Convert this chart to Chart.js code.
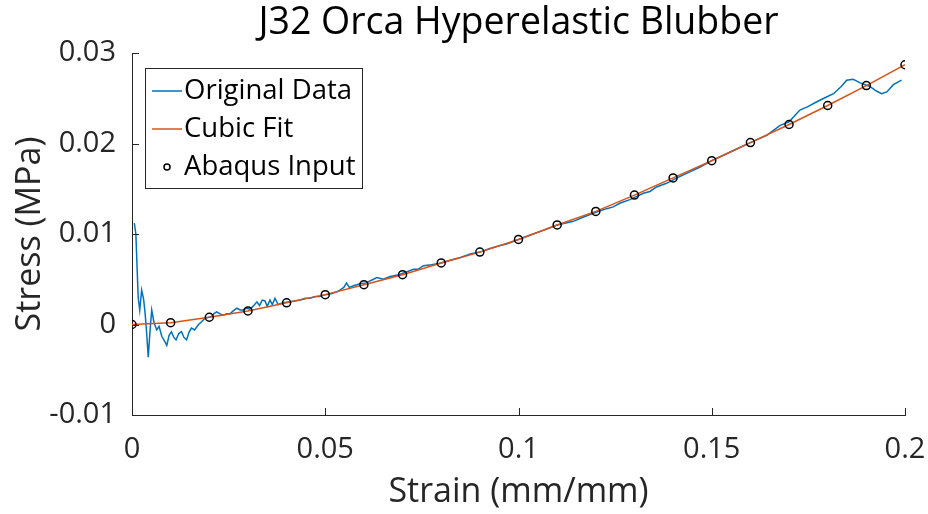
<!DOCTYPE html>
<html>
<head>
<meta charset="utf-8">
<script src="https://cdn.jsdelivr.net/npm/chart.js@4"></script>
<style>
  html, body { margin: 0; padding: 0; background: #fff; }
  #wrap { width: 928px; height: 514px; }
</style>
</head>
<body>
<div id="wrap"><canvas id="myChart" width="928" height="514"></canvas></div>
<script>
// measured test data (noisy at start)
var rawStrain = [0.0006, 0.0010, 0.0016, 0.0020, 0.0025, 0.0030, 0.0034, 0.0038, 0.0042, 0.0047,
  0.0051, 0.0057, 0.0064, 0.0070, 0.0077, 0.0084, 0.0090, 0.0096, 0.0102, 0.0108,
  0.0114, 0.0121, 0.0128, 0.0134, 0.0141, 0.0148, 0.0154, 0.0162, 0.0172, 0.0180,
  0.0189, 0.0198, 0.0206, 0.0212, 0.0219, 0.0227, 0.0236, 0.0245, 0.0254, 0.0262,
  0.0271, 0.0280, 0.0288, 0.0296, 0.0305, 0.0313, 0.0323, 0.0330, 0.0337, 0.0344,
  0.0350, 0.0357, 0.0363, 0.0370, 0.0378, 0.0390, 0.0405, 0.0420, 0.0435, 0.0448,
  0.0460, 0.0475, 0.0486, 0.0500, 0.0515, 0.0530, 0.0538, 0.0548, 0.0555, 0.0562,
  0.0575, 0.0590, 0.0605, 0.0625, 0.0634, 0.0650, 0.0668, 0.0690, 0.0710, 0.0728,
  0.0740, 0.0754, 0.0775, 0.0800, 0.0823, 0.0850, 0.0875, 0.0900, 0.0926, 0.0950,
  0.0969, 0.1000, 0.1038, 0.1064, 0.1100, 0.1142, 0.1170, 0.1200, 0.1228, 0.1245,
  0.1262, 0.1288, 0.1323, 0.1340, 0.1357, 0.1383, 0.1410, 0.1435, 0.1470, 0.1500,
  0.1530, 0.1570, 0.1600, 0.1642, 0.1677, 0.1700, 0.1728, 0.1750, 0.1767, 0.1790,
  0.1815, 0.1835, 0.1849, 0.1866, 0.1884, 0.1909, 0.1926, 0.1939, 0.1953, 0.1970,
  0.1991];
var rawStress = [0.0112, 0.0100, 0.0030, 0.0016, 0.0038, 0.0028, 0.0012, -0.0010, -0.0036, -0.0005,
  0.0016, 0.0002, -0.0006, -0.0002, -0.0013, -0.0018, -0.0023, -0.0012, -0.0008, -0.0014,
  -0.0017, -0.0010, -0.0008, -0.0014, -0.0017, -0.0008, -0.0004, -0.0006, 0.0000, 0.0003,
  0.0007, 0.0008, 0.0009, 0.0012, 0.0014, 0.0012, 0.0010, 0.0012, 0.0012, 0.0015,
  0.0018, 0.0016, 0.0016, 0.0018, 0.0017, 0.0020, 0.0025, 0.0021, 0.0027, 0.0026,
  0.0020, 0.0027, 0.0022, 0.0029, 0.0022, 0.0024, 0.0025, 0.0026, 0.0027, 0.0029,
  0.0029, 0.0031, 0.0031, 0.0033, 0.0034, 0.0036, 0.0038, 0.0041, 0.0046, 0.0041,
  0.0043, 0.0045, 0.0046, 0.0050, 0.0052, 0.0050, 0.0053, 0.0055, 0.0058, 0.0061,
  0.0061, 0.0065, 0.0066, 0.0068, 0.0071, 0.0074, 0.0078, 0.0080, 0.0084, 0.0087,
  0.0089, 0.0094, 0.0100, 0.0104, 0.0110, 0.0114, 0.0119, 0.0124, 0.0128, 0.0130,
  0.0134, 0.0138, 0.0145, 0.0147, 0.0152, 0.0156, 0.0162, 0.0167, 0.0174, 0.0181,
  0.0187, 0.0195, 0.0201, 0.0209, 0.0220, 0.0224, 0.0237, 0.0241, 0.0245, 0.0250,
  0.0255, 0.0263, 0.0270, 0.0271, 0.0267, 0.0263, 0.0258, 0.0255, 0.0257, 0.0265,
  0.0270];

// abaqus input points (cubic fit drawn through the same points)
var abaqusStrain = [0, 0.01, 0.02, 0.03, 0.04, 0.05, 0.06, 0.07, 0.08, 0.09, 0.10,
  0.11, 0.12, 0.13, 0.14, 0.15, 0.16, 0.17, 0.18, 0.19, 0.20];
var abaqusStress = [0, 0.0002, 0.0008, 0.0015, 0.0024, 0.0033, 0.0044, 0.0055, 0.0068, 0.0080, 0.0094,
  0.0110, 0.0125, 0.0143, 0.0162, 0.0181, 0.0201, 0.0221, 0.0242, 0.0264, 0.0287];

var xTicks = [0, 0.05, 0.1, 0.15, 0.2];
var yTicks = [-0.01, 0, 0.01, 0.02, 0.03];

var chartTitle = 'J32 Orca Hyperelastic Blubber';

function pts(xs, ys) {
  return xs.map(function (x, i) { return {x: x, y: ys[i]}; });
}

var FONT = "'Open Sans', sans-serif";
var INK = '#262626';

// MATLAB-style ticks pointing into the plot
var innerTicks = {
  id: 'innerTicks',
  afterDraw: function (chart) {
    var ctx = chart.ctx, x = chart.scales.x, y = chart.scales.y;
    var a = chart.chartArea;
    ctx.save();
    ctx.strokeStyle = INK;
    ctx.lineWidth = 1;
    ctx.beginPath();
    xTicks.forEach(function (v) {
      var px = Math.round(x.getPixelForValue(v)) + 0.5;
      ctx.moveTo(px, a.bottom);
      ctx.lineTo(px, a.bottom - 7);
    });
    yTicks.forEach(function (v) {
      var py = Math.round(y.getPixelForValue(v)) + 0.5;
      ctx.moveTo(a.left, py);
      ctx.lineTo(a.left + 7, py);
    });
    ctx.stroke();
    ctx.restore();
  }
};

// title centred over the axes, like matlab
var axesTitle = {
  id: 'axesTitle',
  afterDraw: function (chart) {
    var ctx = chart.ctx, a = chart.chartArea;
    ctx.save();
    ctx.font = '37.5px ' + FONT;
    ctx.fillStyle = '#000';
    ctx.textAlign = 'center';
    ctx.textBaseline = 'middle';
    ctx.fillText(chartTitle, (a.left + a.right) / 2, 23);
    ctx.restore();
  }
};

// boxed legend in upper-left of plot
var boxLegend = {
  id: 'boxLegend',
  afterDraw: function (chart) {
    var ctx = chart.ctx, a = chart.chartArea;
    var ds = chart.data.datasets;
    var left = a.left + 13, top = a.top + 15, w = 217, h = 120;
    ctx.save();
    ctx.fillStyle = '#fff';
    ctx.fillRect(left, top, w, h);
    ctx.strokeStyle = INK;
    ctx.lineWidth = 1;
    ctx.strokeRect(left + 0.5, top + 0.5, w, h);
    ctx.font = '27.5px ' + FONT;
    ctx.textBaseline = 'middle';
    ds.forEach(function (d, i) {
      var cy = top + 23 + i * 38;
      if (d.showLine) {
        ctx.strokeStyle = d.borderColor;
        ctx.lineWidth = 1.5;
        ctx.beginPath();
        ctx.moveTo(left + 7, cy);
        ctx.lineTo(left + 37, cy);
        ctx.stroke();
      } else {
        ctx.strokeStyle = d.pointBorderColor;
        ctx.lineWidth = 1.5;
        ctx.beginPath();
        ctx.arc(left + 22, cy, 3, 0, Math.PI * 2);
        ctx.stroke();
      }
      ctx.fillStyle = '#000';
      ctx.fillText(d.label, left + 39, cy);
    });
    ctx.restore();
  }
};

var ctx = document.getElementById('myChart').getContext('2d');
var myChart = new Chart(ctx, {
  type: 'scatter',
  data: {
    datasets: [{
      label: 'Original Data',
      data: pts(rawStrain, rawStress),
      showLine: true,
      borderColor: '#0072BD',
      borderWidth: 1.5,
      pointRadius: 0,
      order: 3
    }, {
      label: 'Cubic Fit',
      data: pts(abaqusStrain, abaqusStress),
      showLine: true,
      borderColor: '#D95319',
      borderWidth: 1.5,
      pointRadius: 0,
      order: 2
    }, {
      label: 'Abaqus Input',
      data: pts(abaqusStrain, abaqusStress),
      showLine: false,
      pointRadius: 4,
      pointBorderWidth: 1.5,
      pointBorderColor: '#000',
      pointBackgroundColor: 'rgba(0,0,0,0)',
      order: 1
    }]
  },
  options: {
    responsive: false,
    animation: false,
    layout: { padding: { left: 0, right: 23, top: 53, bottom: 0 } },
    plugins: {
      legend: { display: false },
      tooltip: { enabled: false },
      title: { display: false }
    },
    scales: {
      x: {
        type: 'linear',
        min: 0, max: 0.2,
        afterBuildTicks: function (s) { s.ticks = xTicks.map(function (v) { return {value: v}; }); },
        afterFit: function (s) { s.height = 99; s.paddingLeft = 0; s.paddingRight = 0; },
        grid: { display: false },
        border: { display: true, color: INK, width: 1 },
        ticks: {
          color: INK, padding: 9,
          font: { family: FONT, size: 29 },
          maxRotation: 0,
          callback: function (v) { return String(+v.toFixed(2)); }
        },
        title: {
          display: true, text: 'Strain (mm/mm)', color: INK,
          font: { family: FONT, size: 34 },
          padding: { top: 0, bottom: 1 }
        }
      },
      y: {
        type: 'linear',
        min: -0.01, max: 0.03,
        afterBuildTicks: function (s) { s.ticks = yTicks.map(function (v) { return {value: v}; }); },
        afterFit: function (s) { s.width = 132; s.paddingTop = 0; s.paddingBottom = 0; },
        grid: { display: false },
        border: { display: true, color: INK, width: 1 },
        ticks: {
          color: INK, padding: 8,
          font: { family: FONT, size: 29 },
          callback: function (v) { return String(+v.toFixed(2)); }
        },
        title: {
          display: true, text: 'Stress (MPa)', color: INK,
          font: { family: FONT, size: 34 },
          padding: { top: 10, bottom: 0 }
        }
      }
    }
  },
  plugins: [innerTicks, axesTitle, boxLegend]
});
</script>
</body>
</html>
